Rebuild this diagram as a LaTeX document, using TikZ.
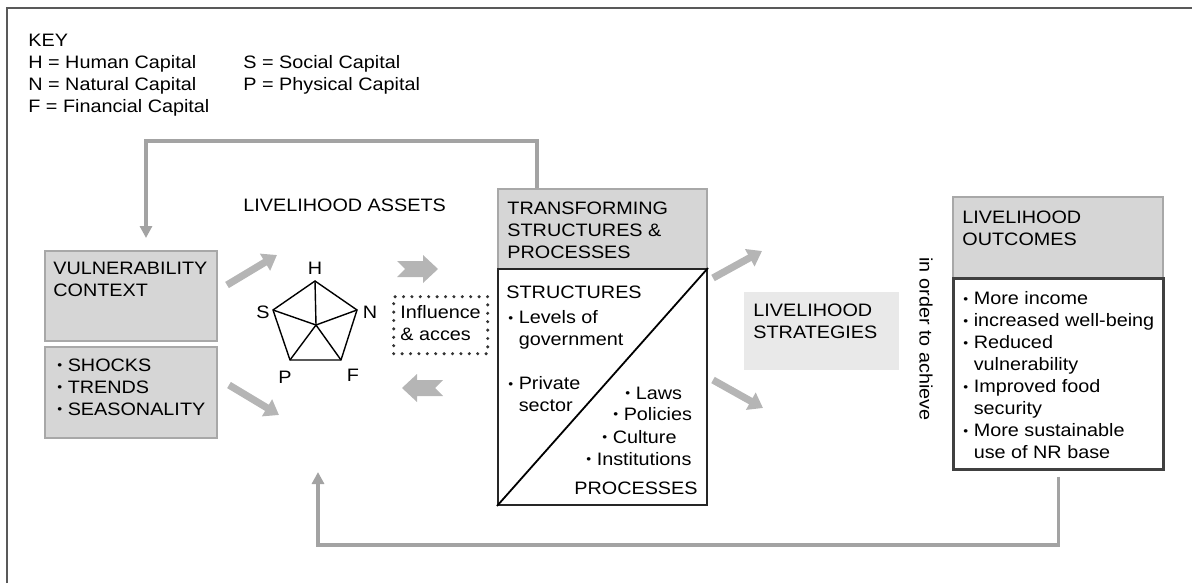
\documentclass[tikz,border=0pt]{standalone}
\usepackage{fontspec}
\setmainfont{Liberation Sans}[FakeStretch=1.1]
\usepackage{graphicx}
\usepackage{tikz}
\usetikzlibrary{positioning,calc,arrows.meta}

\definecolor{hdrgray}{HTML}{D6D6D6}
\definecolor{strgray}{HTML}{E9E9E9}
\definecolor{arrgray}{HTML}{B5B5B5}
\definecolor{fbgray}{HTML}{A3A3A3}
\definecolor{edgegray}{HTML}{A8A8A8}
\newcommand\lbul{\raisebox{0.2ex}{\scalebox{0.7}{\textbullet}}}

\begin{document}
\begin{tikzpicture}[x=0.5pt,y=-0.5pt,
  every node/.style={font=\fontsize{9}{11}\selectfont, inner sep=0pt},
  txt/.style={anchor=north west, align=left},
  hdrbox/.style={draw=edgegray, line width=0.8pt, fill=hdrgray, anchor=north west},
  bodybox/.style={draw=black!85, line width=1pt, anchor=north west},
  blockarr/.style={arrgray, line width=3.6pt, -{Triangle[width=9.5pt,length=7pt]}},
  fb/.style={fbgray, line width=1.6pt, -{Triangle[width=6pt,length=6pt]}}]
\useasboundingbox (0,0) rectangle (1192,583);

% frame
\draw[black!65, line width=1pt] (7,583) -- (7,8) -- (1192,8);

% key
\node[txt] (key) at (28,33.5) {KEY\\H = Human Capital\\N = Natural Capital\\F = Financial Capital};
\node[txt] (key2) at (243,55.5) {S = Social Capital\\P = Physical Capital};

% boxes
\node[hdrbox, minimum width=86pt, minimum height=45pt] (vul) at (44,250) {};
\node[hdrbox, minimum width=86pt, minimum height=45.5pt] (shk) at (44,346) {};
\node[hdrbox, minimum width=104.5pt, minimum height=40pt] (tsh) at (497,188) {};
\node[bodybox, minimum width=104.5pt, minimum height=118pt] (tsb) at (497,268) {};
\node[fill=strgray, anchor=north west, minimum width=77.5pt, minimum height=39pt] (lsg) at (744,292) {};
\node[hdrbox, minimum width=105pt, minimum height=40.5pt] (loh) at (952,196) {};
\node[bodybox, draw=black!75, line width=1.3pt, minimum width=105pt, minimum height=95.5pt] (lob) at (952,277) {};
\node[draw=black!80, line width=1.7pt, line cap=round, dash pattern=on 0pt off 4.2pt, anchor=north west,
  minimum width=47pt, minimum height=28.5pt] (inf) at (392,295) {};
\draw[line width=0.9pt] (tsb.south west) -- (tsb.north east);

% texts
\node[anchor=west] (las) at (243,205) {LIVELIHOOD ASSETS};
\node[txt] (vult) at (53,261.5) {VULNERABILITY\\CONTEXT};
\node[txt] (shkt) at (57,358.5) {\lbul\ SHOCKS\\\lbul\ TRENDS\\\lbul\ SEASONALITY};
\node[txt] (tsht) at (507,201.5) {TRANSFORMING\\STRUCTURES \&\\PROCESSES};
\node[anchor=west] (strt) at (506,292) {STRUCTURES};
\node[txt] (levt) at (508,310.5) {\lbul\ Levels of\\\hphantom{\lbul\ }government};
\node[txt] (prit) at (508,376.5) {\lbul\ Private\\\hphantom{\lbul\ }sector};
\foreach \x/\y/\t [count=\i] in {625/393/Laws, 613/414/Policies, 602/437/Culture, 586/459/Institutions}
  \node[anchor=west] (pr\i) at (\x,\y) {\lbul\ \t};
\node[anchor=east] (proct) at (698,488) {PROCESSES};
\node[txt] (infl) at (400,305.5) {Influence\\\& acces};
\node[txt] (lsgt) at (753,303.5) {LIVELIHOOD\\STRATEGIES};
\node[rotate=-90] (ordr) at (926,339) {in order to achieve};
\node[txt] (loht) at (962,210.5) {LIVELIHOOD\\OUTCOMES};
\node[txt] (lobt) at (963,291.5) {\lbul\ More income\\\lbul\ increased well-being\\\lbul\ Reduced\\
  \hphantom{\lbul\ }vulnerability\\\lbul\ Improved food\\\hphantom{\lbul\ }security\\
  \lbul\ More sustainable\\\hphantom{\lbul\ }use of NR base};

% asset pentagon
\coordinate (cH) at (315,281);
\coordinate (cN) at (357,310);
\coordinate (cF) at (341,360);
\coordinate (cP) at (290,360);
\coordinate (cS) at (273,310);
\coordinate (cM) at (316,325);
\draw[line width=0.7pt] (cH) -- (cN) -- (cF) -- (cP) -- (cS) -- cycle;
\foreach \v in {H,N,F,P,S}
  \draw[line width=0.7pt] (cM) -- (c\v);
\node (lH) at (315,268) {H};
\node (lS) at (263,312) {S};
\node (lN) at (370,312) {N};
\node (lP) at (285,377) {P};
\node (lF) at (353,375) {F};

% block arrows
\foreach \sx/\sy/\ex/\ey [count=\i] in {227/285/277/255, 229/385/279/415, 713/278/762/251, 713/380/763/408} {
  \coordinate (ds\i) at (\sx,\sy);
  \coordinate (de\i) at (\ex,\ey);
  \draw[blockarr] (ds\i) -- (de\i);
}
\foreach \x/\y/\d in {397/269/1, 443/388/-1}
  \fill[arrgray] (\x,\y-8) -- ++(\d*26,0) -- ++(0,-6) -- ++(\d*15,14) -- ++(-\d*15,14)
    -- ++(0,-6) -- ++(-\d*26,0) -- ++(\d*8,-8) -- cycle;

% feedback lines
\coordinate (fbtop) at (146,141);
\coordinate (fbbot) at (318,545);
\coordinate (fbend) at (318,472);
\draw[fb] ([xshift=20pt]tsh.north west) |- (fbtop) -- ([xshift=51pt,yshift=6pt]vul.north west);
\draw[fb] ([yshift=-3pt]lob.south) |- (fbbot) -- (fbend);
\end{tikzpicture}
\end{document}
